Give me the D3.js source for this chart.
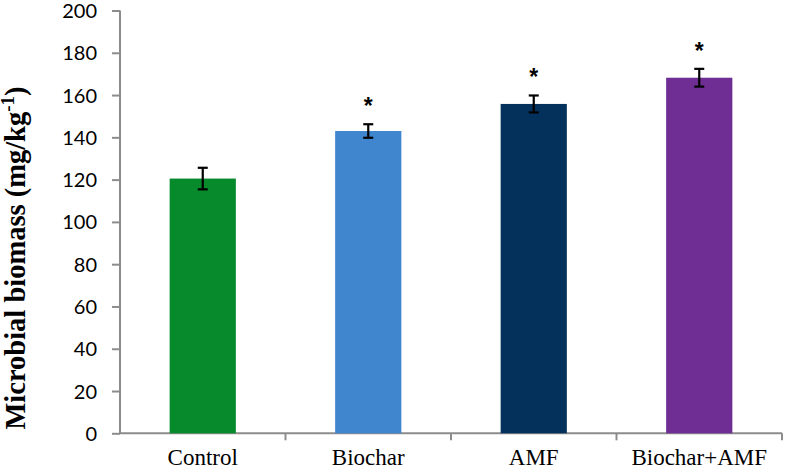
<!DOCTYPE html>
<html><head><meta charset="utf-8">
<script src="https://cdn.jsdelivr.net/npm/d3@7"></script>
<style>body{margin:0;background:#fff}</style>
</head><body>
<svg id="c" width="787" height="470"></svg>
<script>
const categories = ["Control","Biochar","AMF","Biochar+AMF"];
const values = [120.5, 143, 155.8, 168.2];
const errors = [5.1, 3.2, 4.0, 4.2];
const significant = [false, true, true, true];
const colors = ["#078a2c","#3f86cf","#04305c","#6f2e93"];
const yTicks = [0,20,40,60,80,100,120,140,160,180,200];

const svg = d3.select("#c");
const m = {left:120};
const x = d3.scaleBand().domain(categories).range([m.left, 782]).paddingInner(0).paddingOuter(0);
const y = d3.scaleLinear().domain([0,200]).range([433.3, 10.5]);

// y axis
const ya = svg.append("g").attr("transform",`translate(${m.left},0)`)
  .call(d3.axisLeft(y).tickValues(yTicks).tickSize(8).tickPadding(15));
ya.selectAll("path,line").attr("stroke","#8c8c8c").attr("stroke-width",2);
ya.select(".domain").attr("d",`M0,${y(200)}V${y(0)}`);
ya.selectAll("text").attr("font-family","Lato, 'Open Sans', sans-serif").attr("font-size",20).attr("fill","#000").attr("dy","0.35em");

// x axis
const xa = svg.append("g").attr("transform",`translate(0,${y(0)})`);
xa.append("line").attr("x1",m.left).attr("x2",782).attr("stroke","#8c8c8c").attr("stroke-width",2);
const bounds = categories.map(c=>x(c)).concat([x(categories[categories.length-1])+x.bandwidth()]);
xa.selectAll("line.t").data(bounds.slice(1)).join("line").attr("class","t")
  .attr("x1",d=>d).attr("x2",d=>d).attr("y1",0).attr("y2",7).attr("stroke","#8c8c8c").attr("stroke-width",2);
xa.selectAll("text").data(categories).join("text")
  .attr("x",d=>x(d)+x.bandwidth()/2).attr("y",32).attr("text-anchor","middle")
  .attr("font-family","'Liberation Serif', 'Times New Roman', serif").attr("font-size",23).attr("fill","#000")
  .text(d=>d);

// bars
const bw = x.bandwidth()*0.4;
const cx = d=>x(d)+x.bandwidth()/2;
svg.selectAll("rect.bar").data(categories).join("rect").attr("class","bar")
  .attr("x",d=>cx(d)-bw/2).attr("width",bw)
  .attr("y",(d,i)=>y(values[i])).attr("height",(d,i)=>y(0)-y(values[i]))
  .attr("fill",(d,i)=>colors[i]);

// error bars
const eg = svg.append("g").attr("stroke","#000").attr("stroke-width",2.2);
categories.forEach((c,i)=>{
  const X = cx(c), t = y(values[i]+errors[i]), b = y(values[i]-errors[i]);
  eg.append("line").attr("x1",X).attr("x2",X).attr("y1",t).attr("y2",b);
  eg.append("line").attr("x1",X-5).attr("x2",X+5).attr("y1",t).attr("y2",t);
  eg.append("line").attr("x1",X-5).attr("x2",X+5).attr("y1",b).attr("y2",b);
  if(significant[i]){
    svg.append("text").attr("x",X).attr("y",t-10).attr("text-anchor","middle")
      .attr("font-family","'Liberation Sans', Arial, sans-serif").attr("font-weight","bold")
      .attr("font-size",23).attr("fill","#000").text("*");
  }
});

// y title
const yt = svg.append("text").attr("transform","translate(25,258) rotate(-90)")
  .attr("text-anchor","middle").attr("font-family","'Liberation Serif', 'Times New Roman', serif")
  .attr("font-weight","bold").attr("font-size",28.5).attr("fill","#000");
yt.append("tspan").text("Microbial biomass (mg/kg");
yt.append("tspan").attr("dy",-11).attr("font-size",19).text("-1");
yt.append("tspan").attr("dy",11).text(")");
</script>
</body></html>
